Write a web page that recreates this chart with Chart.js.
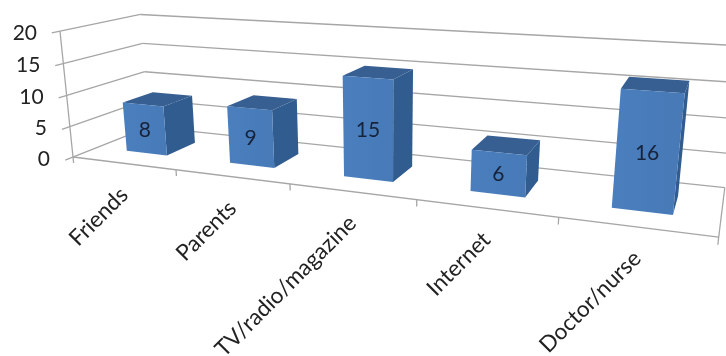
<!DOCTYPE html>
<html>
<head>
<meta charset="utf-8">
<style>html,body{margin:0;padding:0;background:#fff}canvas{display:block}</style>
<script src="https://cdn.jsdelivr.net/npm/chart.js@4"></script>
</head>
<body>
<canvas id="c" width="726" height="356"></canvas>
<script>
const categories = ['Friends', 'Parents', 'TV/radio/magazine', 'Internet', 'Doctor/nurse'];
const counts = [8, 9, 15, 6, 16];
const valueMax = 20;
const valueStep = 5;

// Perspective camera: maps (across, depth, height), each 0..1, to the canvas.
const CAM = {
  x: [73, 472.5, 94.5, -15.4],
  y: [157, 22.9, -14.3, -127],
  w: [1, -0.241, 0.124, -0.04]
};
function project(u, d, v) {
  const dot = c => c[0] + c[1] * u + c[2] * d + c[3] * v;
  const w = dot(CAM.w);
  return [dot(CAM.x) / w, dot(CAM.y) / w];
}

const DEPTH_NEAR = 0.3, DEPTH_FAR = 0.7;
const GRID = '#a6a6a6', INK = '#222222', LABEL_INK = '#17233a';
const VALUE_FONT = '21px Lato', CATEGORY_FONT = '22.5px Lato';

function segment(ctx, a, b) {
  ctx.beginPath();
  ctx.moveTo(a[0], a[1]);
  ctx.lineTo(b[0], b[1]);
  ctx.stroke();
}
function face(ctx, pts, fill) {
  ctx.beginPath();
  pts.forEach((p, i) => i ? ctx.lineTo(p[0], p[1]) : ctx.moveTo(p[0], p[1]));
  ctx.closePath();
  ctx.fillStyle = fill;
  ctx.fill();
}

const perspective3d = {
  id: 'perspective3d',
  beforeDatasetsDraw(chart) {
    const { ctx, chartArea: a, scales: { x, y } } = chart;
    const toU = px => (px - a.left) / a.width;
    const toV = px => (a.bottom - px) / a.height;
    ctx.save();
    ctx.strokeStyle = GRID;
    ctx.lineWidth = 1.3;

    // Walls: one rail per value tick, running along the side wall and the back wall.
    y.ticks.forEach(t => {
      const v = toV(y.getPixelForValue(t.value));
      segment(ctx, project(0, -0.09, v), project(0, 1, v));
      segment(ctx, project(0, 1, v), project(1, 1, v));
      const p = project(0, 0, v);
      ctx.font = VALUE_FONT;
      ctx.fillStyle = INK;
      ctx.textAlign = 'right';
      ctx.textBaseline = 'middle';
      ctx.fillText(String(t.value), p[0] - 23, p[1] + 2);
    });
    // Vertical axis line and floor outline.
    segment(ctx, project(0, 0, 0), project(0, 0, 1));
    segment(ctx, project(0, 0, 0), project(1, 0, 0));
    segment(ctx, project(1, 0, 0), project(1, 1, 0));

    // Category ticks on the front floor edge, labels slanted below them.
    for (let i = 0; i <= categories.length; i++) {
      const u = i / categories.length;
      segment(ctx, project(u, 0, 0), project(u, 0, -0.05));
    }
    categories.forEach((name, i) => {
      const u = toU(x.getPixelForValue(i));
      const p = project(u, 0, 0);
      ctx.save();
      ctx.translate(p[0] + 1, p[1] + 28);
      ctx.rotate(-Math.PI / 4);
      ctx.font = CATEGORY_FONT;
      ctx.fillStyle = INK;
      ctx.textAlign = 'right';
      ctx.textBaseline = 'middle';
      ctx.fillText(name, 0, 0);
      ctx.restore();
    });
    ctx.restore();
  },
  beforeDatasetDraw(chart, args) {
    const { ctx, chartArea: a } = chart;
    const toU = px => (px - a.left) / a.width;
    const toV = px => (a.bottom - px) / a.height;
    const meta = chart.getDatasetMeta(args.index);
    ctx.save();
    meta.data.forEach((bar, i) => {
      const u0 = toU(bar.x - bar.width / 2), u1 = toU(bar.x + bar.width / 2);
      const v0 = toV(bar.base), v1 = toV(bar.y);
      const d0 = DEPTH_NEAR, d1 = DEPTH_FAR;
      // Right side, top, then front.
      face(ctx, [project(u1, d0, v0), project(u1, d1, v0), project(u1, d1, v1), project(u1, d0, v1)], '#315c8f');
      face(ctx, [project(u0, d0, v1), project(u1, d0, v1), project(u1, d1, v1), project(u0, d1, v1)], '#375f92');
      const fl = project(u0, d0, v0), fr = project(u1, d0, v0);
      const grad = ctx.createLinearGradient(fl[0], 0, fr[0], 0);
      grad.addColorStop(0, '#4a7ebd');
      grad.addColorStop(1, '#477ab7');
      face(ctx, [fl, fr, project(u1, d0, v1), project(u0, d0, v1)], grad);
      // Value centred on the front face.
      const c = project((u0 + u1) / 2, d0, (v0 + v1) / 2);
      ctx.font = VALUE_FONT;
      ctx.fillStyle = LABEL_INK;
      ctx.textAlign = 'center';
      ctx.textBaseline = 'middle';
      ctx.fillText(String(counts[i]), c[0], c[1] + 1);
    });
    ctx.restore();
    return false;
  }
};

new Chart(document.getElementById('c'), {
  type: 'bar',
  data: {
    labels: categories,
    datasets: [{ label: 'Count', data: counts, backgroundColor: '#4a7ebd', barPercentage: 0.4, categoryPercentage: 1 }]
  },
  options: {
    responsive: false,
    animation: false,
    layout: { padding: 0 },
    plugins: { legend: { display: false }, tooltip: { enabled: false } },
    scales: {
      x: { display: false },
      y: { display: false, min: 0, max: valueMax, ticks: { stepSize: valueStep } }
    }
  },
  plugins: [perspective3d]
});
</script>
</body>
</html>
